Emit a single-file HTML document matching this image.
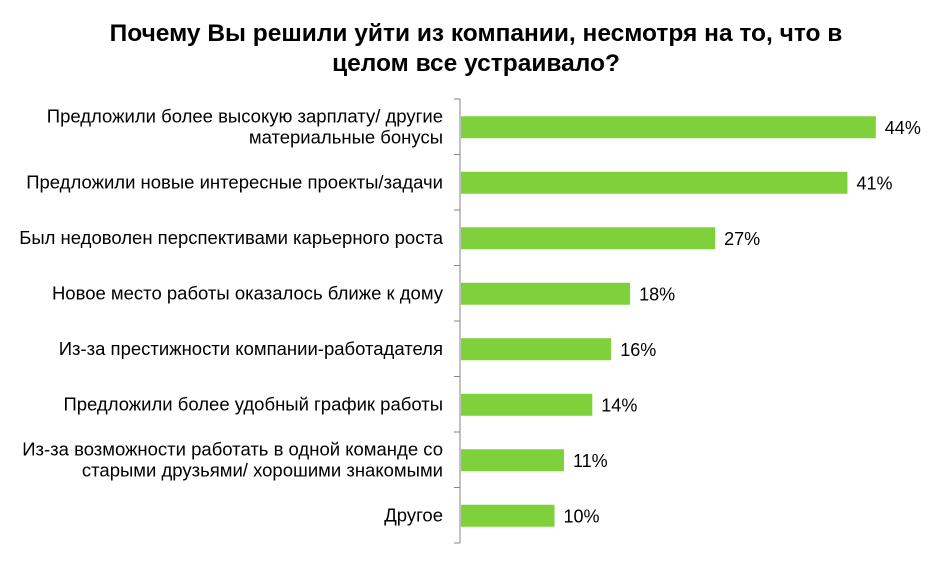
<!DOCTYPE html>
<html><head><meta charset="utf-8"><style>
body{margin:0;background:#fff;}
svg{display:block;font-family:"Liberation Sans",sans-serif;}
</style></head><body>
<svg id="chart" width="952" height="566">
<text x="476" y="40" text-anchor="middle" font-size="24.5" font-weight="bold"><tspan x="476" y="41">Почему Вы решили уйти из компании, несмотря на то, что в</tspan><tspan x="476" y="71">целом все устраивало?</tspan></text>
<g id="plot"></g>
</svg>
<script>
const categories = [
 ["Предложили более высокую зарплату/  другие","материальные бонусы"],
 ["Предложили новые интересные проекты/задачи"],
 ["Был недоволен перспективами  карьерного роста"],
 ["Новое место работы оказалось ближе к дому"],
 ["Из-за престижности компании-работадателя"],
 ["Предложили более удобный график работы"],
 ["Из-за возможности работать в одной команде со","старыми друзьями/ хорошими знакомыми"],
 ["Другое"]
];
const values = [44, 41, 27, 18, 16, 14, 11, 10];
const valueLabels = ["44%","41%","27%","18%","16%","14%","11%","10%"];

const NS = "http://www.w3.org/2000/svg";
const g = document.getElementById('plot');
const x0 = 460, pxPer = 9.45, top0 = 99, band = 55.5, barH = 22;
const xScale = v => x0 + v * pxPer;
const yBand = i => top0 + i * band;
function mk(tag, attrs){const e=document.createElementNS(NS,tag);for(const k in attrs)e.setAttribute(k,attrs[k]);return e;}

const axis = mk('line',{x1:x0,x2:x0,y1:top0,y2:top0+band*categories.length,stroke:'#868686','stroke-width':1});


g.appendChild(axis);
for(let i=0;i<=categories.length;i++){
  const t = mk('line',{x1:x0-6,x2:x0,y1:yBand(i),y2:yBand(i),stroke:'#868686','stroke-width':1});
  
  
  g.appendChild(t);
}
values.forEach((v,i)=>{
  const yc = yBand(i) + band/2;
  const r = mk('rect',{x:x0+1,y:yc-barH/2+0.5,width:xScale(v)-x0-1,height:barH,fill:'#7fd13b'});
  
  
  g.appendChild(r);
  const vl = mk('text',{x:xScale(v)+9,y:yc+7,'font-size':18,fill:'#000'});
  vl.textContent = valueLabels[i];
  
  
  g.appendChild(vl);
  const lines = categories[i];
  const cl = mk('text',{x:443,'text-anchor':'end','font-size':18.5,fill:'#000'});
  
  
  lines.forEach((ln,j)=>{
    const ts = mk('tspan',{x:443,y:yc+6+(j-(lines.length-1)/2)*21});
    ts.textContent = ln;
    cl.appendChild(ts);
  });
  g.appendChild(cl);
});
</script>
</body></html>
